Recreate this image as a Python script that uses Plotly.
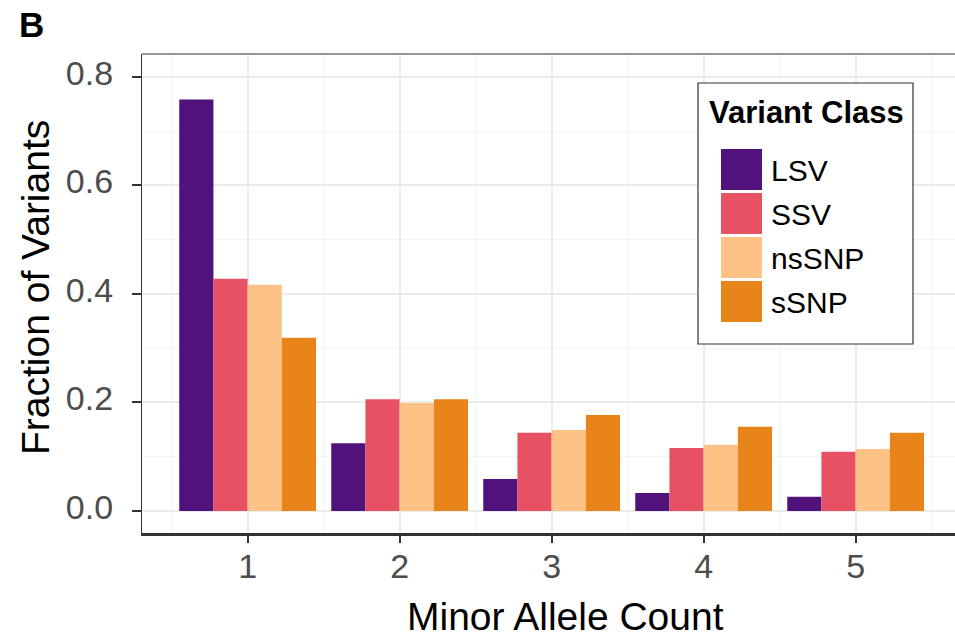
import plotly.graph_objects as go

# ---- data ----
minor_allele_count = [1, 2, 3, 4, 5]
classes = ["LSV", "SSV", "nsSNP", "sSNP"]
lsv = [0.758, 0.125, 0.059, 0.033, 0.026]
ssv = [0.428, 0.206, 0.144, 0.116, 0.109]
nssnp = [0.417, 0.199, 0.149, 0.122, 0.114]
ssnp = [0.319, 0.206, 0.177, 0.155, 0.144]
colors = ["#51127C", "#E65164", "#FEC287", "#E8851A"]
y_ticks = [0.0, 0.2, 0.4, 0.6, 0.8]
y_tick_text = ["0.0", "0.2", "0.4", "0.6", "0.8"]

series = [lsv, ssv, nssnp, ssnp]

W, H = 955, 637
L, T, B, R = 142, 54, 104, 0
PW, PH = W - L - R, H - T - B
FONT = "Liberation Sans, Arial, sans-serif"


def px_x(p):
    return (p - L) / PW


def px_y(p):
    return 1 - (p - T) / PH


fig = go.Figure()
for name, vals, col in zip(classes, series, colors):
    fig.add_trace(go.Bar(x=minor_allele_count, y=vals, name=name,
                         marker=dict(color=col, line=dict(width=0)),
                         showlegend=False))

fig.update_layout(
    width=W, height=H,
    margin=dict(l=L, r=R, t=T, b=B, autoexpand=False),
    paper_bgcolor="white", plot_bgcolor="white",
    barmode="group", bargap=0.1, bargroupgap=0,
    font=dict(family=FONT, color="#000000"),
    title=dict(text="<b>B</b>", x=19 / W, xanchor="left", xref="container",
               y=1 - 25 / H, yanchor="middle", yref="container",
               font=dict(size=35, family=FONT, color="#000000"), automargin=False),
)

fig.update_xaxes(
    automargin=False,
    range=[0.305, 0.305 + PW / 152.0],
    tickmode="array", tickvals=minor_allele_count,
    ticktext=[str(v) for v in minor_allele_count],
    tickfont=dict(size=34, color="#4D4D4D", family=FONT),
    ticks="outside", ticklen=7, tickwidth=2, tickcolor="#333333",
    showline=True, linecolor="#333333", linewidth=2.5,
    showgrid=True, gridcolor="#EBEBEB", gridwidth=2,
    minor=dict(tickmode="array", tickvals=[0.5, 1.5, 2.5, 3.5, 4.5, 5.5],
               showgrid=True, gridcolor="#F3F3F3", gridwidth=1, ticks=""),
    zeroline=False, ticklabelstandoff=-6,
)
fig.update_yaxes(
    automargin=False,
    range=[-0.0406, 0.842],
    tickmode="array", tickvals=y_ticks, ticktext=y_tick_text,
    tickfont=dict(size=34, color="#4D4D4D", family=FONT),
    ticks="outside", ticklen=9, tickwidth=1.5, tickcolor="#333333",
    showline=True, linecolor="#333333", linewidth=1.2,
    showgrid=True, gridcolor="#EBEBEB", gridwidth=2,
    minor=dict(tickmode="array", tickvals=[0.1, 0.3, 0.5, 0.7],
               showgrid=True, gridcolor="#F3F3F3", gridwidth=1, ticks=""),
    zeroline=False, ticklabelstandoff=12, ticklabelshift=-4,
)

# axis titles
fig.add_annotation(xref="paper", yref="paper", x=px_x(565), y=px_y(616),
                   xanchor="center", yanchor="middle", showarrow=False, height=38,
                   text="Minor Allele Count",
                   font=dict(size=39, family=FONT, color="#000000"))
fig.add_annotation(xref="paper", yref="paper", x=px_x(35), y=px_y(288),
                   xanchor="center", yanchor="middle", showarrow=False, textangle=-90,
                   text="Fraction of Variants",
                   font=dict(size=39, family=FONT, color="#000000"))

# top border of panel
fig.add_shape(type="line", xref="paper", yref="paper", x0=0, x1=1, y0=1, y1=1,
              line=dict(color="#333333", width=1.2))

# custom legend
fig.add_shape(type="rect", xref="paper", yref="paper",
              x0=px_x(698), x1=px_x(913), y0=px_y(344), y1=px_y(83),
              fillcolor="white", line=dict(color="#333333", width=1.2), layer="above")
fig.add_annotation(xref="paper", yref="paper", x=px_x(707), y=px_y(112),
                   xanchor="left", yanchor="middle", showarrow=False,
                   text="<b>Variant Class</b>",
                   font=dict(size=31, family=FONT, color="#000000"))
for i, (name, col) in enumerate(zip(classes, colors)):
    top = 149 + i * 44
    fig.add_shape(type="rect", xref="paper", yref="paper",
                  x0=px_x(721), x1=px_x(762), y0=px_y(top + 41), y1=px_y(top),
                  fillcolor=col, line=dict(width=0), layer="above")
    fig.add_annotation(xref="paper", yref="paper", x=px_x(769), y=px_y(top + 21),
                       xanchor="left", yanchor="middle", showarrow=False,
                       text=name, font=dict(size=30, family=FONT, color="#000000"))

fig.write_html("out.html", config={"displayModeBar": False},
               post_script="document.body.style.margin='0px';")
